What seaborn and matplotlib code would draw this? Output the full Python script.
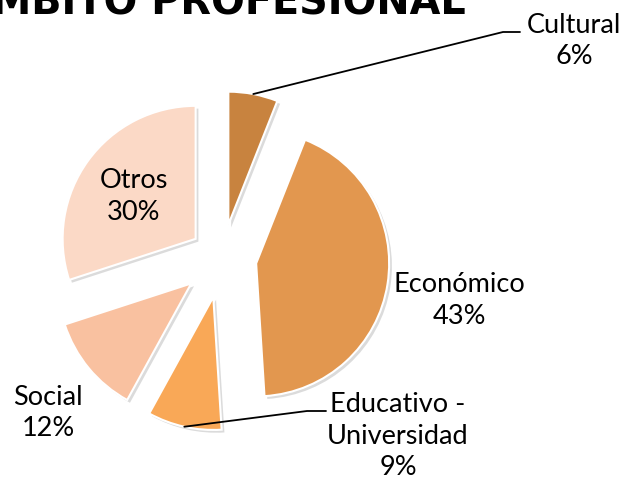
import numpy as np
import matplotlib
matplotlib.use("Agg")
import matplotlib.pyplot as plt
import matplotlib.patheffects as pe
import seaborn as sns

# ---- data ----
categories = ["Cultural", "Económico", "Educativo - Universidad", "Social", "Otros"]
label_lines = [["Cultural"], ["Económico"], ["Educativo -", "Universidad"], ["Social"], ["Otros"]]
values = [6, 43, 9, 12, 30]
colors = ["#C8833F", "#E2974F", "#F9A857", "#F9C1A0", "#FBD9C6"]
explode = [0.255, 0.26, 0.30, 0.30, 0.245]
title = "ÁMBITO PROFESIONAL"

W, H = 626, 482
sns.set_theme(style="white")
plt.rcParams["font.family"] = ["Lato", "DejaVu Sans"]

fig = plt.figure(figsize=(W / 100, H / 100), dpi=100)
ax = fig.add_axes([0, 0, 1, 1])

def Y(y):
    return H - y

center = (222, Y(258))
radius = 133
wedges, _ = ax.pie(values, colors=sns.color_palette(colors),
                   explode=[e * radius for e in explode],
                   startangle=90, counterclock=False, center=center, radius=radius,
                   wedgeprops=dict(edgecolor="white", linewidth=1.5))
for w in wedges:
    w.set_path_effects([pe.SimplePatchShadow(offset=(2, -2), shadow_rgbFace="#999999", alpha=0.35),
                        pe.Normal()])

ax.set_xlim(0, W)
ax.set_ylim(0, H)
ax.set_aspect("equal")
ax.axis("off")

# label layout (center x, first baseline in px from top)
label_pos = [(574, 33), (459, 292), (398, 412), (48, 405), (134, 188)]
line_gap = 31.5
fs = 19.5
for lines, v, (lx, ly) in zip(label_lines, values, label_pos):
    all_lines = lines + [f"{v}%"]
    for i, t in enumerate(all_lines):
        ax.text(lx, Y(ly + i * line_gap), t, ha="center", va="baseline",
                fontsize=fs, color="black")

# leader lines from arc midpoints
def arc_mid(w):
    th = np.deg2rad((w.theta1 + w.theta2) / 2)
    cx, cy = w.center
    return cx + w.r * np.cos(th), cy + w.r * np.sin(th)

x0, y0 = arc_mid(wedges[0])
ax.plot([x0, 503, 520], [y0, Y(32), Y(32)], color="black", lw=1.3)
x0, y0 = arc_mid(wedges[2])
ax.plot([x0, 307, 326], [y0, Y(411), Y(411)], color="black", lw=1.3)

# title (cut off at top/left like the reference); size fitted so that
# "MBITO PROFESIONAL" spans from about x=-8 to x=466
renderer = fig.canvas.get_renderer()
probe = ax.text(0, 0, title[1:], fontsize=30, fontweight="bold", family=["DejaVu Sans"])
wpx = probe.get_window_extent(renderer).width
probe.remove()
tfs = 30 * 474 / wpx
ax.text(466, Y(14), title, ha="right", va="baseline", fontsize=tfs,
        fontweight="bold", color="black", family=["DejaVu Sans"])

fig.savefig("out.png", dpi=100)
